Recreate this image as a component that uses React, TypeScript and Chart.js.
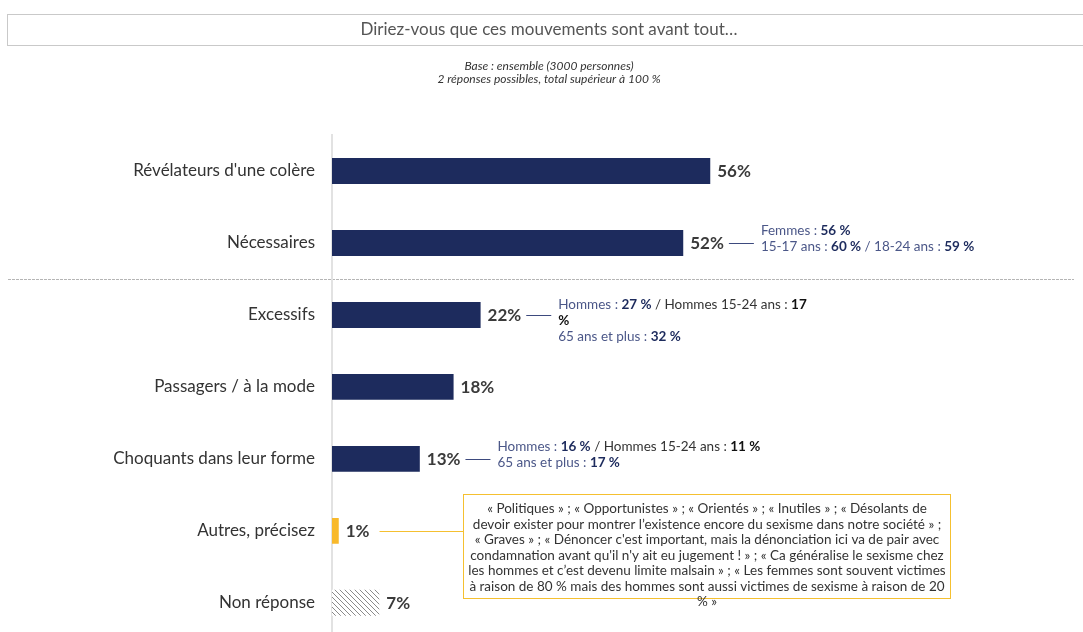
import { useEffect, useRef } from "react";
import { Chart, registerables } from "chart.js";

Chart.register(...registerables);

const title = "Diriez-vous que ces mouvements sont avant tout…";
const subtitleLines = ["Base : ensemble (3000 personnes)", "2 réponses possibles, total supérieur à 100 %"];

const categories = [
  "Révélateurs d'une colère",
  "Nécessaires",
  "Excessifs",
  "Passagers / à la mode",
  "Choquants dans leur forme",
  "Autres, précisez",
  "Non réponse",
];
const values = [56, 52, 22, 18, 13, 1, 7];
const valueLabels = ["56%", "52%", "22%", "18%", "13%", "1%", "7%"];

const NAVY = "#1d2b5d";
const YELLOW = "#f8b92b";

type Seg = { t: string; s: "r" | "b" | "d" | "k" };
type Note = { index: number; firstDy: number; lines: Seg[][] };

const notes: Note[] = [
  {
    index: 1,
    firstDy: -12,
    lines: [
      [{ t: "Femmes : ", s: "r" }, { t: "56 %", s: "b" }],
      [
        { t: "15-17 ans : ", s: "r" },
        { t: "60 %", s: "b" },
        { t: " / 18-24 ans : ", s: "r" },
        { t: "59 %", s: "b" },
      ],
    ],
  },
  {
    index: 2,
    firstDy: -10,
    lines: [
      [
        { t: "Hommes : ", s: "r" },
        { t: "27 %", s: "b" },
        { t: " / Hommes 15-24 ans : ", s: "d" },
        { t: "17", s: "k" },
      ],
      [{ t: "%", s: "k" }],
      [{ t: "65 ans et plus : ", s: "r" }, { t: "32 %", s: "b" }],
    ],
  },
  {
    index: 4,
    firstDy: -12,
    lines: [
      [
        { t: "Hommes : ", s: "r" },
        { t: "16 %", s: "b" },
        { t: " / Hommes 15-24 ans : ", s: "d" },
        { t: "11 %", s: "k" },
      ],
      [{ t: "65 ans et plus : ", s: "r" }, { t: "17 %", s: "b" }],
    ],
  },
];

const otherIndex = 5;
const otherLines = [
  "« Politiques » ; « Opportunistes » ; « Orientés » ; « Inutiles » ; « Désolants de",
  "devoir exister pour montrer l’existence encore du sexisme dans notre société » ;",
  "« Graves » ; « Dénoncer c'est important, mais la dénonciation ici va de pair avec",
  "condamnation avant qu'il n'y ait eu jugement ! » ; « Ca généralise le sexisme chez",
  "les hommes et c’est devenu limite malsain » ; « Les femmes sont souvent victimes",
  "à raison de 80 % mais des hommes sont aussi victimes de sexisme à raison de 20",
  "% »",
];

const FONT = "Lato, 'Open Sans', sans-serif";

function makeHatch(): CanvasPattern | string {
  const c = document.createElement("canvas");
  c.width = 5;
  c.height = 5;
  const g = c.getContext("2d");
  if (!g) return "#999";
  g.fillStyle = "#ffffff";
  g.fillRect(0, 0, 5, 5);
  g.strokeStyle = "#8a8a8a";
  g.lineWidth = 1;
  g.beginPath();
  g.moveTo(-1, -1);
  g.lineTo(6, 6);
  g.moveTo(-1, 4);
  g.lineTo(1, 6);
  g.moveTo(4, -1);
  g.lineTo(6, 1);
  g.stroke();
  const p = g.createPattern(c, "repeat");
  return p || "#999";
}

const decorPlugin = {
  id: "decor",
  beforeDraw(chart: any) {
    const ctx = chart.ctx as CanvasRenderingContext2D;
    ctx.save();
    // header box
    ctx.strokeStyle = "#c9c9c9";
    ctx.lineWidth = 1;
    ctx.strokeRect(7.5, 14.5, 1080, 31);
    ctx.fillStyle = "#555555";
    ctx.font = `17px ${FONT}`;
    ctx.textAlign = "center";
    ctx.textBaseline = "middle";
    ctx.fillText(title, 549, 30);
    ctx.fillStyle = "#333333";
    ctx.font = `italic 12px ${FONT}`;
    ctx.fillText(subtitleLines[0], 549, 66);
    ctx.fillText(subtitleLines[1], 549, 79);
    // dashed separator
    const ys = chart.scales.y;
    const sepY = Math.round((ys.getPixelForValue(1) + ys.getPixelForValue(2)) / 2) + 0.5;
    ctx.strokeStyle = "#b5b5b5";
    ctx.setLineDash([3, 1]);
    ctx.beginPath();
    ctx.moveTo(8, sepY);
    ctx.lineTo(1074, sepY);
    ctx.stroke();
    ctx.setLineDash([]);
    ctx.restore();
  },
  afterDatasetsDraw(chart: any) {
    const ctx = chart.ctx as CanvasRenderingContext2D;
    const meta = chart.getDatasetMeta(0);
    ctx.save();
    ctx.textBaseline = "middle";
    ctx.textAlign = "left";
    const labelEnds: number[] = [];
    meta.data.forEach((bar: any, i: number) => {
      ctx.font = `bold 17px ${FONT}`;
      ctx.fillStyle = "#3a3a3a";
      const x = bar.x + 7;
      ctx.fillText(valueLabels[i], x, bar.y + 1);
      labelEnds[i] = x + ctx.measureText(valueLabels[i]).width;
    });
    // notes
    notes.forEach((n) => {
      const bar = meta.data[n.index];
      const cy = Math.round(bar.y) + 0.5;
      const x0 = labelEnds[n.index] + 5;
      ctx.strokeStyle = "#3d4a7e";
      ctx.lineWidth = 1;
      ctx.beginPath();
      ctx.moveTo(x0, cy);
      ctx.lineTo(x0 + 25, cy);
      ctx.stroke();
      const tx = x0 + 32;
      n.lines.forEach((line, li) => {
        let x = tx;
        const y = bar.y + n.firstDy + li * 16;
        line.forEach((seg) => {
          const bold = seg.s === "b" || seg.s === "k";
          ctx.font = `${bold ? "bold " : ""}13.5px ${FONT}`;
          ctx.fillStyle =
            seg.s === "r" ? "#4b5788" : seg.s === "b" ? "#1d2b5d" : seg.s === "d" ? "#333333" : "#111111";
          ctx.fillText(seg.t, x, y);
          x += ctx.measureText(seg.t).width;
        });
      });
    });
    // "Autres" box
    const ob = meta.data[otherIndex];
    const oy = Math.round(ob.y) + 0.5;
    const boxL = 463.5;
    const boxR = 950.5;
    const boxT = 494.5;
    const boxB = 598.5;
    ctx.strokeStyle = "#f5c030";
    ctx.lineWidth = 1;
    ctx.beginPath();
    ctx.moveTo(labelEnds[otherIndex] + 10, oy);
    ctx.lineTo(boxL, oy);
    ctx.stroke();
    ctx.strokeRect(boxL, boxT, boxR - boxL, boxB - boxT);
    ctx.fillStyle = "#333333";
    ctx.font = `13.5px ${FONT}`;
    ctx.textAlign = "center";
    otherLines.forEach((l, i) => {
      ctx.fillText(l, (boxL + boxR) / 2, 509 + i * 15.5);
    });
    ctx.restore();
  },
};

export default function App() {
  const ref = useRef<HTMLCanvasElement | null>(null);
  useEffect(() => {
    if (!ref.current) return;
    const colors: any[] = [NAVY, NAVY, NAVY, NAVY, NAVY, YELLOW, makeHatch()];
    const chart = new Chart(ref.current, {
      type: "bar",
      data: {
        labels: categories,
        datasets: [
          {
            data: values,
            backgroundColor: colors,
            borderWidth: 0,
            barPercentage: 0.36,
            categoryPercentage: 1,
          },
        ],
      },
      options: {
        indexAxis: "y",
        responsive: false,
        animation: false,
        layout: { padding: { left: 8, top: 135, right: 8, bottom: 1 } },
        plugins: { legend: { display: false }, tooltip: { enabled: false }, title: { display: false } },
        scales: {
          x: { display: false, min: 0, max: 110 },
          y: {
            afterFit: (s: any) => {
              s.width = 324;
            },
            grid: { display: false, drawTicks: false },
            border: { display: true, color: "#e2e2e2", width: 2 },
            ticks: {
              padding: 17,
              color: "#333333",
              font: { family: FONT, size: 17 },
            },
          },
        },
      },
      plugins: [decorPlugin],
    });
    return () => chart.destroy();
  }, []);
  return (
    <div style={{ position: "absolute", left: 0, top: 0, width: 1083, height: 666, background: "#fff" }}>
      <canvas ref={ref} width={1083} height={666} style={{ display: "block" }} />
    </div>
  );
}
